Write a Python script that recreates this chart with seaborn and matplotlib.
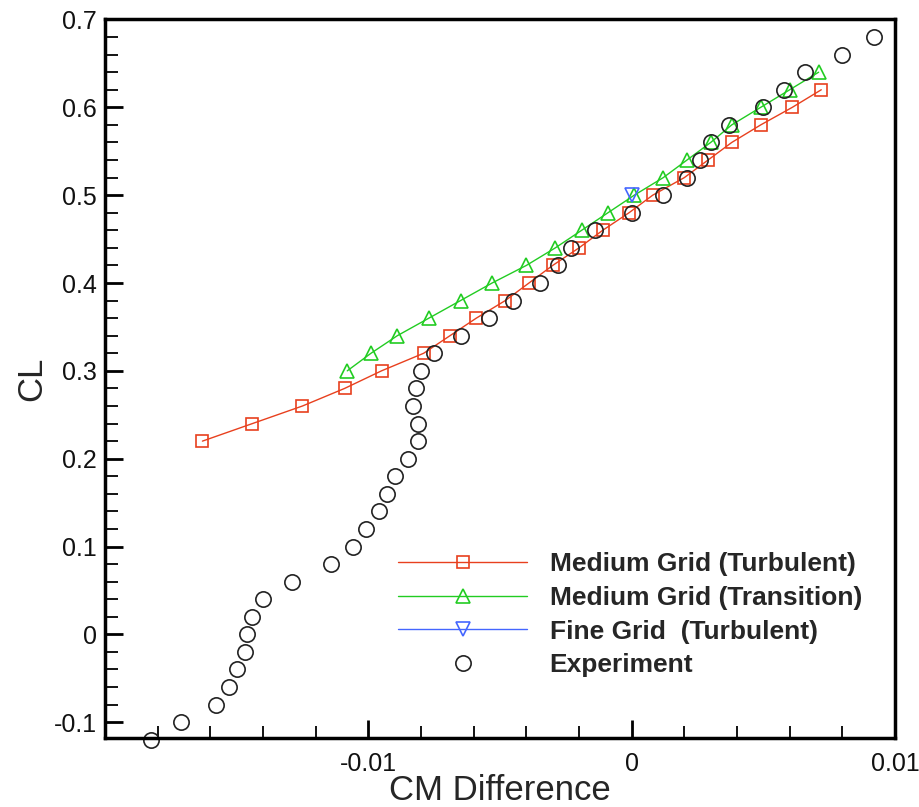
import numpy as np
import pandas as pd
import matplotlib
matplotlib.use("Agg")
import matplotlib.pyplot as plt
from matplotlib.ticker import MultipleLocator, FixedLocator, FuncFormatter
import seaborn as sns

# ---- data ----
cl_med_turb = [0.22, 0.24, 0.26, 0.28, 0.30, 0.32, 0.34, 0.36, 0.38, 0.40, 0.42,
               0.44, 0.46, 0.48, 0.50, 0.52, 0.54, 0.56, 0.58, 0.60, 0.62]
cm_med_turb = [-0.0163, -0.0144, -0.0125, -0.0109, -0.0095, -0.0079, -0.0069,
               -0.0059, -0.0048, -0.0039, -0.0030, -0.0020, -0.0011, -0.0001,
               0.0008, 0.0020, 0.0029, 0.0038, 0.0049, 0.0061, 0.0072]

cl_med_trans = [0.30, 0.32, 0.34, 0.36, 0.38, 0.40, 0.42, 0.44, 0.46, 0.48, 0.50,
                0.52, 0.54, 0.56, 0.58, 0.60, 0.62, 0.64]
cm_med_trans = [-0.0108, -0.0099, -0.0089, -0.0077, -0.0065, -0.0053, -0.0040,
                -0.0029, -0.0019, -0.0009, 0.0001, 0.0012, 0.0021, 0.0030,
                0.0038, 0.0049, 0.0060, 0.0071]

cl_fine_turb = [0.50]
cm_fine_turb = [0.0]

cl_exp = [-0.12, -0.10, -0.08, -0.06, -0.04, -0.02, 0.00, 0.02, 0.04, 0.06, 0.08,
          0.10, 0.12, 0.14, 0.16, 0.18, 0.20, 0.22, 0.24, 0.26, 0.28, 0.30, 0.32,
          0.34, 0.36, 0.38, 0.40, 0.42, 0.44, 0.46, 0.48, 0.50, 0.52, 0.54, 0.56,
          0.58, 0.60, 0.62, 0.64, 0.66, 0.68]
cm_exp = [-0.01825, -0.0171, -0.0158, -0.0153, -0.0150, -0.0147, -0.0146, -0.0144,
          -0.0140, -0.0129, -0.0114, -0.0106, -0.0101, -0.0096, -0.0093, -0.0090,
          -0.0085, -0.0081, -0.0081, -0.0083, -0.0082, -0.0080, -0.0075, -0.0065,
          -0.0054, -0.0045, -0.0035, -0.0028, -0.0023, -0.0014, 0.0000, 0.0012,
          0.0021, 0.0026, 0.0030, 0.0037, 0.0050, 0.0058, 0.0066, 0.0080, 0.0092]

labels = ["Medium Grid (Turbulent)", "Medium Grid (Transition)",
          "Fine Grid  (Turbulent)", "Experiment"]
x_ticks = [-0.01, 0.0, 0.01]

# ---- style ----
sns.set_style("white")
plt.rcParams["font.family"] = ["Liberation Sans", "DejaVu Sans"]
plt.rcParams["axes.unicode_minus"] = False

fig = plt.figure(figsize=(9.2, 8.07), dpi=100)
ax = fig.add_axes([105 / 920, 1 - 738 / 807, (895 - 105) / 920, (738 - 19.5) / 807])

red = "#e8401e"
green = "#22cc22"
blue = "#4466ff"

df1 = pd.DataFrame({"cm": cm_med_turb, "cl": cl_med_turb})
df2 = pd.DataFrame({"cm": cm_med_trans, "cl": cl_med_trans})
df3 = pd.DataFrame({"cm": cm_fine_turb, "cl": cl_fine_turb})
df4 = pd.DataFrame({"cm": cm_exp, "cl": cl_exp})

common = dict(x="cm", y="cl", sort=False, estimator=None, ax=ax)
sns.lineplot(data=df1, color=red, marker="s", markersize=9, markerfacecolor="none",
             markeredgecolor=red, markeredgewidth=1.2, linewidth=1.0,
             label=labels[0], **common)
sns.lineplot(data=df2, color=green, marker="^", markersize=10, markerfacecolor="none",
             markeredgecolor=green, markeredgewidth=1.2, linewidth=1.0,
             label=labels[1], **common)
sns.lineplot(data=df3, color=blue, marker="v", markersize=10, markerfacecolor="none",
             markeredgecolor=blue, markeredgewidth=1.2, linewidth=1.0,
             label=labels[2], **common)
sns.lineplot(data=df4, color="black", marker="o", markersize=11, markerfacecolor="none",
             markeredgecolor="#222222", markeredgewidth=1.2, linestyle="none",
             label=labels[3], clip_on=False, **common)

ax.set_xlim(-0.02, 0.01)
ax.set_ylim(-0.118, 0.7)

ax.xaxis.set_major_locator(FixedLocator(x_ticks))
ax.xaxis.set_minor_locator(MultipleLocator(0.002))
ax.yaxis.set_major_locator(MultipleLocator(0.1))
ax.yaxis.set_minor_locator(MultipleLocator(0.02))

def fmt(v, pos):
    return "%g" % round(v, 6)
ax.xaxis.set_major_formatter(FuncFormatter(fmt))
ax.yaxis.set_major_formatter(FuncFormatter(fmt))

ax.tick_params(which="both", direction="in", top=False, right=False,
               bottom=True, left=True, colors="black")
ax.tick_params(which="major", length=13, width=2.0, labelsize=18)
ax.tick_params(axis="x", which="major", pad=10)
ax.tick_params(axis="y", which="major", pad=6)
ax.tick_params(which="minor", length=9, width=1.3)
for lab in ax.get_xticklabels() + ax.get_yticklabels():
    lab.set_color("#111111")

for sp in ax.spines.values():
    sp.set_visible(True)
    sp.set_color("black")
    sp.set_linewidth(2.5)

ax.set_xlabel("CM Difference", fontsize=25, labelpad=-1)
ax.set_ylabel("CL", fontsize=25, labelpad=4)

leg = ax.legend(loc="upper left", bbox_to_anchor=(398 / 920, 1 - 552 / 807),
                bbox_transform=fig.transFigure, frameon=False, borderpad=0,
                borderaxespad=0, handlelength=4.9, handletextpad=0.85,
                labelspacing=0.37, prop={"size": 19, "weight": "bold"})

fig.savefig("out.png", dpi=100, facecolor="white")
